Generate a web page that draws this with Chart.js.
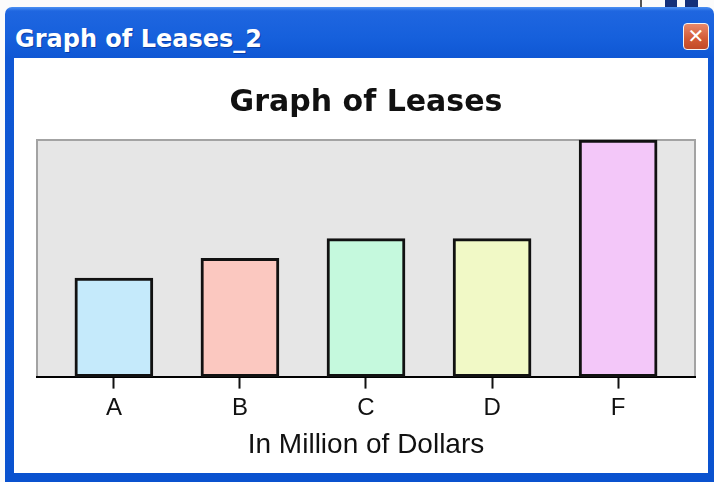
<!DOCTYPE html>
<html>
<head>
<meta charset="utf-8">
<script src="https://cdn.jsdelivr.net/npm/chart.js@4/dist/chart.umd.min.js"></script>
<style>
  html, body { margin: 0; padding: 0; background: #fbfbfb; }
  body { width: 714px; height: 482px; position: relative; overflow: hidden; }
  .frame { position: absolute; left: 5px; top: 7px; width: 709px; height: 475px;
    background: linear-gradient(to bottom, #4b90f2 0px, #1f66e0 4px, #1660dc 30px, #0f57d4 51px, #0a52cf 100%);
    border-top-left-radius: 7px; border-top-right-radius: 7px; }
  .wtitle { position: absolute; left: 15px; top: 27px; line-height: 24px; font-family: "DejaVu Sans", sans-serif;
    font-weight: bold; font-size: 24px; color: #fff; white-space: nowrap; letter-spacing: 0px;
    text-shadow: 1px 1px 0 #0a3fa8; }
  .close { position: absolute; left: 683px; top: 23px; width: 24px; height: 25px; border: 1px solid #f4f4f4;
    border-radius: 4px; background: linear-gradient(to bottom, #e8886a, #d25a34 60%, #c24a28);
    color: #fff; font-family: "DejaVu Sans", sans-serif; font-weight: bold; font-size: 20px; line-height: 25px; text-align: center; }
  .inner { position: absolute; left: 14px; top: 58px; width: 694px; height: 415px; background: #ffffff; }
  .blk { position: absolute; top: 0; height: 7px; background: #13307a; }
</style>
</head>
<body>
<div class="blk" style="left:640px;width:2px;background:#555"></div>
<div class="blk" style="left:665px;width:12px"></div>
<div class="blk" style="left:685px;width:13px"></div>
<div class="frame"></div>
<div class="wtitle">Graph of Leases_2</div>
<div class="close">✕</div>
<div class="inner"><canvas id="c" width="694" height="415"></canvas></div>
<script>
const chartTitle = "Graph of Leases";
const axisTitle = "In Million of Dollars";
const categories = ["A", "B", "C", "D", "F"];
const values = [5, 6, 7, 7, 12];
const barColors = ["#c5eafb", "#fbc8c0", "#c5f9dd", "#f1f9c6", "#f3c7f9"];

const plotBg = {
  id: 'plotBg',
  beforeDraw(chart) {
    const { ctx, chartArea: a } = chart;
    ctx.save();
    ctx.fillStyle = '#e6e6e6';
    ctx.fillRect(a.left, a.top, a.right - a.left, a.bottom - a.top);
    ctx.strokeStyle = '#a3a3a3';
    ctx.lineWidth = 2;
    ctx.beginPath();
    ctx.moveTo(a.left, a.bottom);
    ctx.lineTo(a.left, a.top);
    ctx.lineTo(a.right, a.top);
    ctx.lineTo(a.right, a.bottom);
    ctx.stroke();
    ctx.restore();
  }
};

new Chart(document.getElementById('c'), {
  type: 'bar',
  data: {
    datasets: [{
      data: values.map((v, i) => ({ x: i, y: v })),
      backgroundColor: barColors,
      borderColor: '#111',
      borderWidth: 3,
      borderSkipped: false,
      barThickness: 78,
      clip: false
    }]
  },
  options: {
    responsive: false,
    animation: false,
    devicePixelRatio: 1,
    layout: { padding: { left: 23, right: 13, top: 0, bottom: 7 } },
    plugins: {
      legend: { display: false },
      tooltip: { enabled: false },
      title: {
        display: true,
        text: chartTitle,
        color: '#111',
        font: { family: 'DejaVu Sans', size: 30, weight: 'bold', lineHeight: 1.2 },
        padding: { top: 27, bottom: 19 }
      }
    },
    scales: {
      x: {
        type: 'linear',
        min: -0.61,
        max: 4.61,
        offset: false,
        border: { display: true, color: '#000', width: 2 },
        grid: { display: true, offset: false, drawOnChartArea: false, drawTicks: true, tickLength: 12, tickColor: '#111', tickWidth: 2, color: '#111' },
        ticks: {
          stepSize: 1,
          includeBounds: false,
          autoSkip: false,
          maxRotation: 0,
          padding: 5,
          color: '#111',
          font: { family: 'Liberation Sans', size: 24, lineHeight: 1.2 },
          callback: (v) => categories[v] !== undefined ? categories[v] : ''
        },
        title: {
          display: true,
          text: axisTitle,
          color: '#111',
          font: { family: 'Liberation Sans', size: 28, lineHeight: 1.2 },
          padding: { top: 1, bottom: 4 }
        }
      },
      y: {
        display: false,
        min: 0,
        max: 12
      }
    }
  },
  plugins: [plotBg]
});
</script>
</body>
</html>
